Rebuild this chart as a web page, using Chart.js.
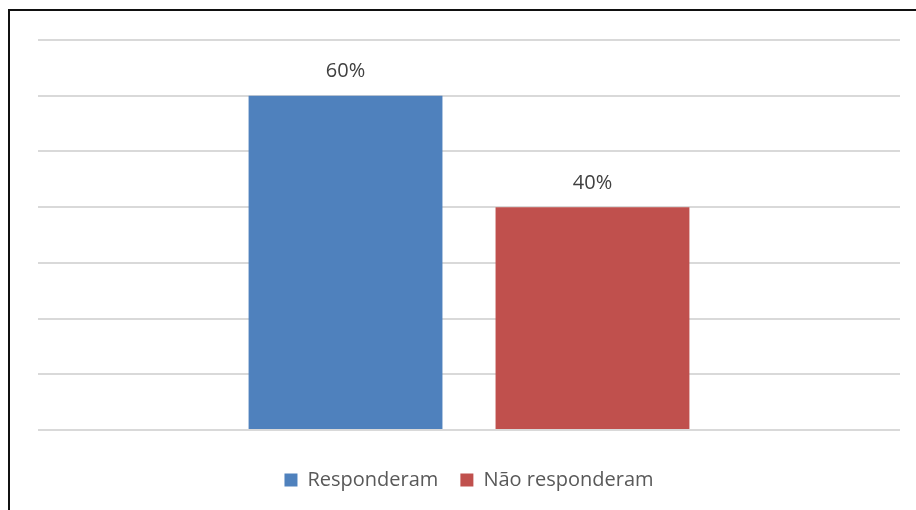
<!DOCTYPE html>
<html>
<head>
<meta charset="utf-8">
<script src="https://cdn.jsdelivr.net/npm/chart.js@4"></script>
<style>
    html, body { margin: 0; padding: 0; background: #fff; overflow: hidden; }
    #frame {
        position: absolute;
        left: 8px;
        top: 9px;
        width: 960px;
        height: 560px;
        border: 2px solid #111;
    }
    #wrap { position: absolute; left: 0; top: 0; width: 916px; height: 510px; }
</style>
</head>
<body>
<div id="frame"></div>
<div id="wrap"><canvas id="chart" width="916" height="510"></canvas></div>
<script>
// Data
const categories = [""];
const seriesNames = ["Responderam", "Não responderam"];
const respondedValues = [60];
const notRespondedValues = [40];
const seriesColors = ["#4F81BD", "#C0504D"];
const yMax = 70;
const yStep = 10;

const fontFamily = "'Open Sans', sans-serif";

// Writes the percentage above each bar
const valueLabels = {
    id: "valueLabels",
    afterDatasetsDraw(chart) {
        const ctx = chart.ctx;
        ctx.save();
        ctx.font = "20px " + fontFamily;
        ctx.fillStyle = "#404040";
        ctx.textAlign = "center";
        ctx.textBaseline = "middle";
        chart.data.datasets.forEach((ds, i) => {
            const meta = chart.getDatasetMeta(i);
            meta.data.forEach((bar, j) => {
                ctx.fillText(ds.data[j] + "%", bar.x, bar.y - 24);
            });
        });
        ctx.restore();
    }
};

const data = {
    labels: categories,
    datasets: [
        {
            label: seriesNames[0],
            data: respondedValues,
            backgroundColor: seriesColors[0],
            categoryPercentage: 0.573,
            barPercentage: 0.785
        },
        {
            label: seriesNames[1],
            data: notRespondedValues,
            backgroundColor: seriesColors[1],
            categoryPercentage: 0.573,
            barPercentage: 0.785
        }
    ]
};

new Chart(document.getElementById("chart"), {
    type: "bar",
    data,
    options: {
        responsive: false,
        animation: false,
        layout: {
            padding: { left: 38, right: 16, top: 40, bottom: 10 }
        },
        scales: {
            x: {
                display: true,
                grid: { display: false },
                border: { display: false },
                ticks: { display: false },
                afterFit(scale) { scale.height = 18; }
            },
            y: {
                min: 0,
                max: yMax,
                ticks: { display: false, stepSize: yStep },
                border: { display: false },
                grid: { color: "#D9D9D9", lineWidth: 2, drawTicks: false },
                afterFit(scale) { scale.width = 0; }
            }
        },
        plugins: {
            legend: {
                position: "bottom",
                labels: {
                    boxWidth: 13,
                    boxHeight: 13,
                    padding: 22,
                    color: "#595959",
                    font: { family: fontFamily, size: 20 }
                }
            },
            tooltip: { enabled: false }
        }
    },
    plugins: [valueLabels]
});
</script>
</body>
</html>
